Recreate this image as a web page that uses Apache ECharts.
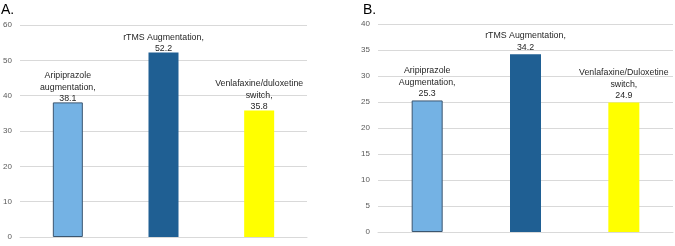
<!DOCTYPE html>
<html>
<head>
<meta charset="utf-8">
<script src="https://cdn.jsdelivr.net/npm/echarts@6/dist/echarts.min.js"></script>
<style>
  html, body { margin: 0; padding: 0; background: #fff; }
  #chart { width: 675px; height: 246px; }
</style>
</head>
<body>
<div id="chart"></div>
<script>
// data
const categories = ['Aripiprazole', 'rTMS', 'Venlafaxine/duloxetine']
const valuesA = [38.1, 52.2, 35.8]
const valuesB = [25.3, 34.2, 24.9]
const labelsA = ['Aripiprazole\naugmentation,', 'rTMS Augmentation,', 'Venlafaxine/duloxetine\nswitch,']
const labelsB = ['Aripiprazole\nAugmentation,', 'rTMS Augmentation,', 'Venlafaxine/Duloxetine\nswitch,']
const barColors = ['#74B2E4', '#1F5F93', '#FFFF00']

const labelFont = "'Liberation Sans', Arial, sans-serif"

const makeData = (values, labels) => values.map((v, i) => ({
  value: v,
  name: labels[i],
  itemStyle: {
    color: barColors[i],
    borderColor: i === 0 ? '#3B5670' : barColors[i],
    borderWidth: i === 0 ? 1 : 0
  }
}))

const yAxisCommon = {
  type: 'value',
  axisLine: { show: false },
  axisTick: { show: false },
  axisLabel: { color: '#595959', fontSize: 8, fontFamily: labelFont, margin: 8 },
  splitLine: { lineStyle: { color: '#D9D9D9', width: 1 } }
}

const xAxisCommon = {
  type: 'category',
  data: categories,
  axisTick: { show: false },
  axisLabel: { show: false },
  axisLine: { lineStyle: { color: '#D9D9D9' } }
}

const barLabel = dist => ({
  show: true,
  position: 'top',
  distance: dist,
  color: '#262626',
  fontSize: 8.8,
  lineHeight: 11.5,
  fontFamily: labelFont,
  formatter: p => p.name + '\n' + p.value
})

const chart = echarts.init(document.getElementById('chart'), null, { renderer: 'canvas' })

chart.setOption({
  animation: false,
  title: [
    { text: 'A.', left: -4, top: -2, textStyle: { fontSize: 14, fontWeight: 'normal', color: '#000', fontFamily: 'Liberation Sans' } },
    { text: 'B.', left: 358, top: -2, textStyle: { fontSize: 14, fontWeight: 'normal', color: '#000', fontFamily: 'Liberation Sans' } }
  ],
  grid: [
    { left: 20, right: 368, top: 25, bottom: 9 },
    { left: 378, right: 2, top: 24, bottom: 14 }
  ],
  xAxis: [
    { ...xAxisCommon, gridIndex: 0 },
    { ...xAxisCommon, gridIndex: 1 }
  ],
  yAxis: [
    { ...yAxisCommon, gridIndex: 0, min: 0, max: 60, interval: 10 },
    { ...yAxisCommon, gridIndex: 1, min: 0, max: 40, interval: 5 }
  ],
  series: [
    {
      type: 'bar',
      xAxisIndex: 0,
      yAxisIndex: 0,
      barWidth: 30,
      data: makeData(valuesA, labelsA),
      label: barLabel(-2)
    },
    {
      type: 'bar',
      xAxisIndex: 1,
      yAxisIndex: 1,
      barWidth: 31,
      data: makeData(valuesB, labelsB),
      label: barLabel(1)
    }
  ]
})
</script>
</body>
</html>
